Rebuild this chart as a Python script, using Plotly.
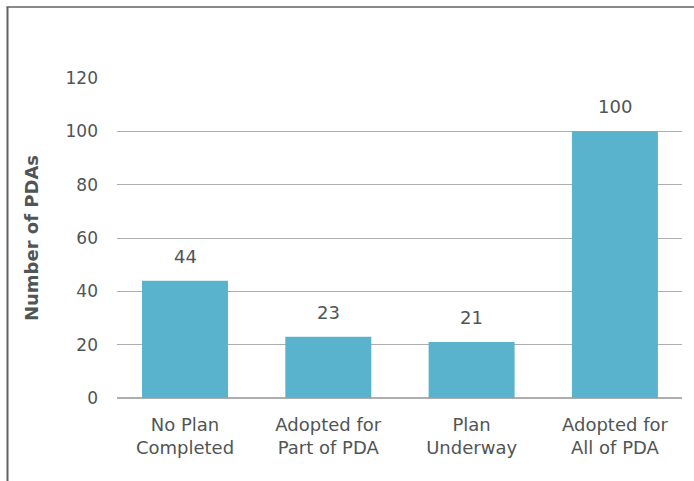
import plotly.graph_objects as go

categories = ["No Plan<br>Completed", "Adopted for<br>Part of PDA", "Plan<br>Underway", "Adopted for<br>All of PDA"]
values = [44, 23, 21, 100]
y_ticks = [0, 20, 40, 60, 80, 100, 120]

bar_color = "#5AB3CD"
text_color = "#505556"
font_family = "'DejaVu Sans', sans-serif"

fig = go.Figure()
fig.add_trace(go.Bar(
    x=list(range(len(categories))),
    y=values,
    width=0.6,
    marker=dict(color=bar_color, line=dict(width=0)),
    hoverinfo="skip",
))

for i, v in enumerate(values):
    fig.add_annotation(x=i, y=v, text=str(v), showarrow=False,
                       yanchor="bottom", yshift=12,
                       font=dict(size=18, color=text_color, family=font_family))

fig.update_layout(
    width=694, height=481,
    margin=dict(l=117, r=12, t=78, b=83),
    paper_bgcolor="white", plot_bgcolor="white",
    showlegend=False,
    font=dict(family=font_family, color=text_color, size=18),
    xaxis=dict(
        range=[-0.4745, 3.468],
        tickmode="array",
        tickvals=list(range(len(categories))),
        ticktext=categories,
        showgrid=False, zeroline=False, showline=False,
        ticks="", ticklabelstandoff=14,
        tickfont=dict(size=18, color=text_color),
        fixedrange=True,
    ),
    yaxis=dict(
        range=[0, 120],
        tickmode="array",
        tickvals=y_ticks,
        showgrid=True, gridcolor="#AEAEAE", gridwidth=1,
        zeroline=True, zerolinecolor="#AEAEAE", zerolinewidth=1.5,
        showline=False, ticks="", ticklabelstandoff=18,
        tickfont=dict(size=17, color=text_color),
        title=dict(text="<b>Number of PDAs</b>", standoff=22,
                   font=dict(size=18, color=text_color)),
        fixedrange=True,
    ),
    shapes=[
        dict(type="line", xref="paper", yref="paper",
             x0=(7.5 - 117) / 565, x1=(7.5 - 117) / 565,
             y0=1 + (78 - 7) / 320, y1=-(83 + 5) / 320,
             line=dict(color="#5F6263", width=2)),
        dict(type="line", xref="paper", yref="paper",
             x0=(6.5 - 117) / 565, x1=(700 - 117) / 565,
             y0=1 + (78 - 7) / 320, y1=1 + (78 - 7) / 320,
             line=dict(color="#5F6263", width=1.5)),
    ],
)

fig.write_html("out.html", config={"displayModeBar": False, "staticPlot": True},
               post_script="document.body.style.margin='0';document.body.style.overflow='hidden';")
